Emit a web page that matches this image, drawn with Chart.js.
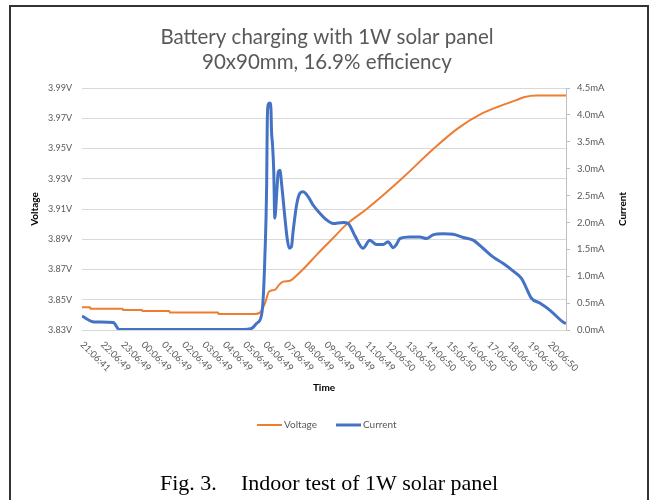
<!DOCTYPE html>
<html>
<head>
<meta charset="utf-8">
<script src="https://cdn.jsdelivr.net/npm/chart.js@4.4.1/dist/chart.umd.min.js"></script>
<style>
  html, body { margin: 0; padding: 0; background: #fff; }
  #wrap { width: 652px; height: 500px; position: relative; }
</style>
</head>
<body>
<div id="wrap"><canvas id="chart" width="652" height="500"></canvas></div>
<script>
// Battery charging test (hours since 21:06:41)
const timeLabels = ['21:06:41', '22:06:49', '23:06:49', '00:06:49', '01:06:49', '02:06:49', '03:06:49', '04:06:49',
    '05:06:49', '06:06:49', '07:06:49', '08:06:49', '09:06:49', '10:06:49', '11:06:49', '12:06:50',
    '13:06:50', '14:06:50', '15:06:50', '16:06:50', '17:06:50', '18:06:50', '19:06:50', '20:06:50'];

const voltTicks = [3.83, 3.85, 3.87, 3.89, 3.91, 3.93, 3.95, 3.97, 3.99];
const curTicks = [0, 0.5, 1.0, 1.5, 2.0, 2.5, 3.0, 3.5, 4.0, 4.5];

const voltHours = [0, 0.4, 0.41, 2.0, 2.01, 2.95, 2.96, 4.3, 4.31, 6.7, 6.71, 8.5,
    8.75, 9.0, 9.2, 9.48, 9.7, 9.89, 10.22, 10.55, 10.86, 11.56, 12.29, 13.02, 14.0, 15.72,
    17.30, 18.5, 19.72, 20.54, 21.36, 21.77, 22.34, 23.8];
const voltage = [3.845, 3.845, 3.844, 3.844, 3.8433, 3.8433, 3.8426, 3.8426, 3.8415, 3.8415, 3.8406, 3.8406,
    3.8415, 3.8477, 3.8554, 3.8565, 3.860, 3.862, 3.8625, 3.866, 3.870, 3.880, 3.890, 3.900, 3.910, 3.930,
    3.950, 3.9635, 3.9735, 3.978, 3.982, 3.984, 3.985, 3.985];

const curHours = [0, 0.6, 1.54, 1.83, 7.93, 8.34, 8.58, 8.83, 8.91, 8.99, 9.08, 9.11, 9.15, 9.24, 9.29,
    9.32, 9.37, 9.43, 9.48, 9.57, 9.65, 9.73, 9.82, 9.98, 10.09, 10.19, 10.30, 10.38, 10.55, 10.71,
    10.87, 11.12, 11.37, 11.70, 12.02, 12.35, 12.84, 13.09, 13.42, 13.82, 14.15, 14.48, 14.81, 15.05, 15.30,
    15.46, 15.63, 16.12, 16.61, 16.94, 17.26, 17.75, 18.25, 18.74, 19.23, 19.72, 20.21, 20.70, 21.19, 21.61,
    21.85, 22.10, 22.51, 23.00, 23.65, 23.8];
const current = [0.26, 0.15, 0.14, 0.01, 0.01, 0.03, 0.12, 0.28, 0.59, 1.33, 2.70, 3.87, 4.18, 4.22, 4.12,
    3.69, 3.44, 2.94, 2.08, 2.51, 2.94, 2.97, 2.70, 2.08, 1.70, 1.52, 1.55, 1.83, 2.32, 2.54,
    2.57, 2.48, 2.32, 2.17, 2.05, 1.98, 2.00, 1.98, 1.75, 1.52, 1.67, 1.59, 1.59, 1.64, 1.53,
    1.59, 1.70, 1.73, 1.73, 1.70, 1.77, 1.79, 1.78, 1.72, 1.67, 1.52, 1.36, 1.24, 1.10, 0.96,
    0.78, 0.59, 0.50, 0.37, 0.15, 0.12];

const ORANGE = '#ED7D31';
const BLUE = '#4472C4';
const GREY = '#595959';
const FONT = 'Lato, "Liberation Sans", sans-serif';

// draws the frame, titles, rotated time labels, legend and caption
const decorPlugin = {
    id: 'decor',
    afterDraw(chart) {
        const ctx = chart.ctx;
        ctx.save();

        // outer frame
        ctx.strokeStyle = '#333';
        ctx.lineWidth = 2;
        ctx.beginPath();
        ctx.moveTo(10, 500);
        ctx.lineTo(10, 6);
        ctx.lineTo(648, 6);
        ctx.lineTo(648, 500);
        ctx.stroke();

        // title
        ctx.fillStyle = GREY;
        ctx.textAlign = 'center';
        ctx.textBaseline = 'middle';
        ctx.font = '20.5px ' + FONT;
        ctx.fillText('Battery charging with 1W solar panel', 327, 37);
        ctx.fillText('90x90mm, 16.9% efficiency', 327, 62);

        // axis titles
        ctx.fillStyle = '#000';
        ctx.font = 'bold 10px ' + FONT;
        ctx.fillText('Time', 324, 388);
        ctx.save();
        ctx.translate(35, 209);
        ctx.rotate(-Math.PI / 2);
        ctx.fillText('Voltage', 0, 0);
        ctx.restore();
        ctx.save();
        ctx.translate(623, 209);
        ctx.rotate(-Math.PI / 2);
        ctx.fillText('Current', 0, 0);
        ctx.restore();

        // time labels, rotated clockwise from the tick
        const xScale = chart.scales.x;
        ctx.fillStyle = GREY;
        ctx.font = '9.5px ' + FONT;
        ctx.textAlign = 'left';
        ctx.textBaseline = 'middle';
        timeLabels.forEach((label, i) => {
            const px = xScale.getPixelForValue(i);
            ctx.save();
            ctx.translate(px, 343);
            ctx.rotate(Math.PI / 4);
            ctx.fillText(label, 0, 0);
            ctx.restore();
        });

        // legend
        ctx.font = '10px ' + FONT;
        ctx.fillStyle = GREY;
        ctx.lineCap = 'butt';
        ctx.strokeStyle = ORANGE;
        ctx.lineWidth = 2;
        ctx.beginPath();
        ctx.moveTo(257, 425);
        ctx.lineTo(282, 425);
        ctx.stroke();
        ctx.fillText('Voltage', 284, 425);
        ctx.strokeStyle = BLUE;
        ctx.lineWidth = 3;
        ctx.beginPath();
        ctx.moveTo(336, 425);
        ctx.lineTo(361, 425);
        ctx.stroke();
        ctx.fillText('Current', 363, 425);

        // caption
        ctx.fillStyle = '#000';
        ctx.font = '22px "Liberation Serif", serif';
        ctx.textBaseline = 'alphabetic';
        ctx.fillText('Fig. 3.', 160, 490);
        ctx.fillText('Indoor test of 1W solar panel', 241, 490);

        ctx.restore();
    }
};

const ctx = document.getElementById('chart').getContext('2d');
new Chart(ctx, {
    type: 'line',
    data: {
        datasets: [{
            label: 'Voltage',
            data: voltHours.map((h, i) => ({ x: h, y: voltage[i] })),
            borderColor: ORANGE,
            borderWidth: 2,
            pointRadius: 0,
            cubicInterpolationMode: 'monotone',
            yAxisID: 'y',
            order: 1
        }, {
            label: 'Current',
            data: curHours.map((h, i) => ({ x: h, y: current[i] })),
            borderColor: BLUE,
            borderWidth: 3,
            pointRadius: 0,
            cubicInterpolationMode: 'monotone',
            yAxisID: 'y1',
            order: 0
        }]
    },
    options: {
        responsive: false,
        animation: false,
        devicePixelRatio: 1,
        layout: { padding: { top: 88, left: 0, right: 0, bottom: 0 } },
        plugins: {
            legend: { display: false },
            title: { display: false },
            tooltip: { enabled: false }
        },
        scales: {
            x: {
                type: 'linear',
                min: 0,
                max: 23.8,
                ticks: { display: false },
                grid: { display: false },
                border: { display: false },
                afterFit: (scale) => { scale.height = 170; }
            },
            y: {
                position: 'left',
                min: 3.83,
                max: 3.99,
                afterBuildTicks: (scale) => { scale.ticks = voltTicks.map(v => ({ value: v })); },
                afterFit: (scale) => { scale.width = 82; },
                ticks: {
                    padding: 10,
                    color: GREY,
                    font: { family: FONT, size: 9 },
                    callback: (v) => v.toFixed(2) + 'V'
                },
                grid: { color: '#d9d9d9', drawTicks: false },
                border: { display: false }
            },
            y1: {
                position: 'right',
                min: 0,
                max: 4.5,
                afterBuildTicks: (scale) => { scale.ticks = curTicks.map(v => ({ value: v })); },
                afterFit: (scale) => { scale.width = 86; },
                ticks: {
                    padding: 7,
                    color: GREY,
                    font: { family: FONT, size: 9.5 },
                    callback: (v) => v.toFixed(1) + 'mA'
                },
                grid: { drawOnChartArea: false, tickLength: 4, color: '#bfbfbf' },
                border: { display: true, color: '#bfbfbf' }
            }
        }
    },
    plugins: [decorPlugin]
});
</script>
</body>
</html>
